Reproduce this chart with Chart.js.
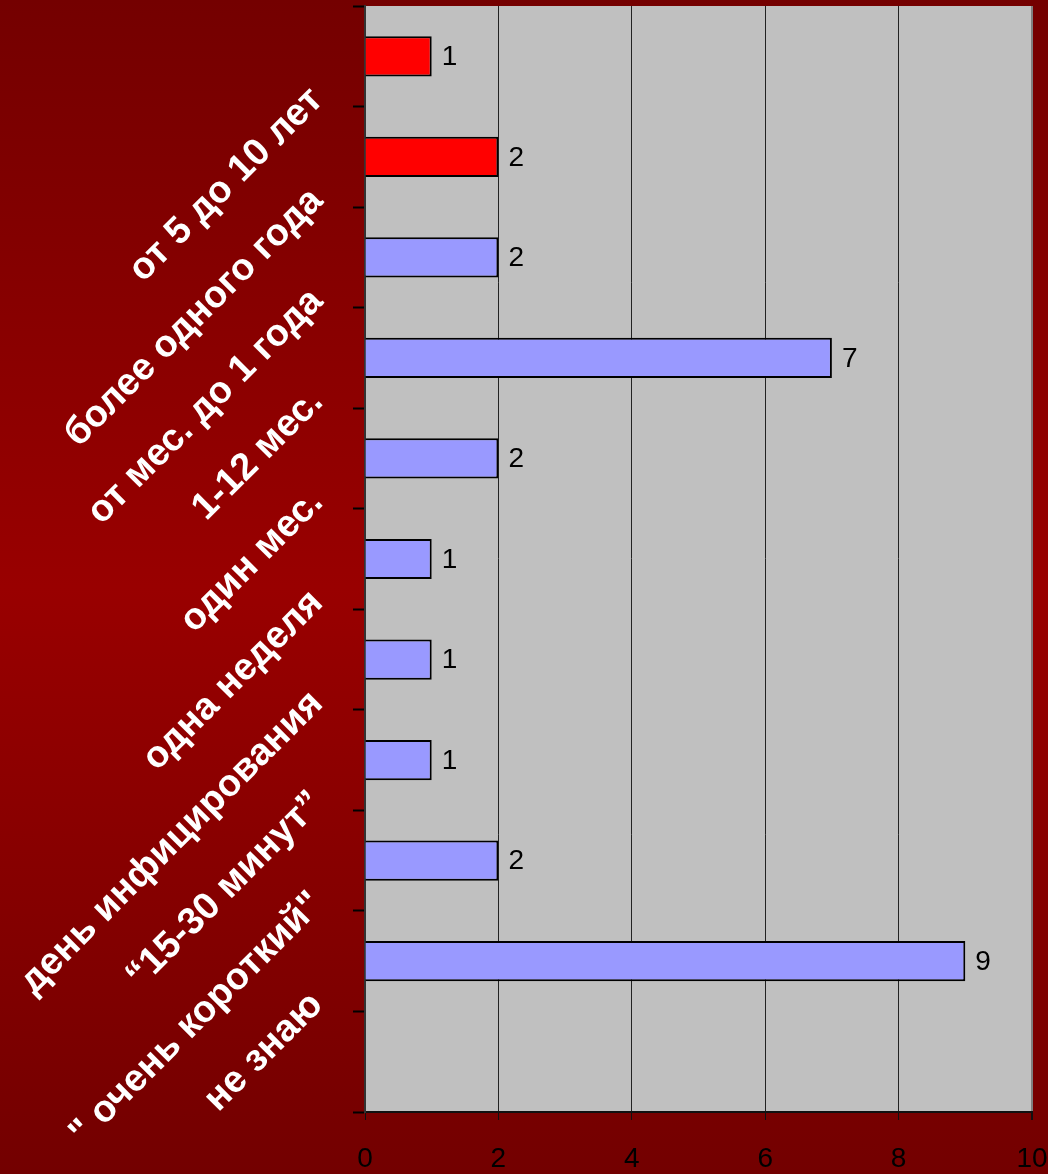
<!DOCTYPE html>
<html lang="ru">
<head>
<meta charset="UTF-8">
<title>Срок</title>
<style>
  html, body {
    margin: 0;
    padding: 0;
    overflow: hidden;
  }
  body {
    width: 1048px;
    height: 1174px;
    background: linear-gradient(to bottom, #740000 0%, #990000 50%, #730000 100%);
  }
  #chart {
    display: block;
  }
</style>
</head>
<body>

<canvas id="chart" width="1048" height="1174"></canvas>

<script src="https://cdn.jsdelivr.net/npm/chart.js"></script>
<script>
  const categories = [
    'от 5 до 10 лет',
    'более одного года',
    'от мес. до 1 года',
    '1-12 мес.',
    'один мес.',
    'одна неделя',
    'день инфицирования',
    '“15-30 минут”',
    '" очень короткий"',
    'не знаю',
    ''
  ];
  const answers = [1, 2, 2, 7, 2, 1, 1, 1, 2, 9, null];
  const xTicks = [0, 2, 4, 6, 8, 10];

  const FONT = '"Liberation Sans", Arial, sans-serif';

  // grey plot area behind the bars
  const plotBackground = {
    id: 'plotBackground',
    beforeDraw(chart) {
      const { ctx, chartArea: a } = chart;
      ctx.save();
      ctx.fillStyle = '#c0c0c0';
      ctx.fillRect(a.left, a.top, a.right - a.left, a.bottom - a.top);
      ctx.restore();
    }
  };

  // numbers to the right of every bar
  const barValues = {
    id: 'barValues',
    afterDatasetsDraw(chart) {
      const { ctx } = chart;
      const meta = chart.getDatasetMeta(0);
      ctx.save();
      ctx.fillStyle = '#000';
      ctx.font = '28px ' + FONT;
      ctx.textAlign = 'left';
      ctx.textBaseline = 'middle';
      meta.data.forEach((bar, i) => {
        const v = answers[i];
        if (v === null) return;
        ctx.fillText(String(v), bar.x + 10, bar.y + 1);
      });
      ctx.restore();
    }
  };

  // the scales keep no extra room for their outer labels
  function noPadding(s) {
    s.paddingTop = 0;
    s.paddingBottom = 0;
    s.paddingLeft = 0;
    s.paddingRight = 0;
  }

  new Chart(document.getElementById('chart'), {
    type: 'bar',
    data: {
      labels: categories,
      datasets: [{
        data: answers,
        backgroundColor: c => c.dataIndex < 2 ? '#ff0000' : '#9999ff',
        borderColor: '#000',
        borderWidth: 2,
        borderSkipped: 'start',
        barPercentage: 0.4,
        categoryPercentage: 1
      }]
    },
    options: {
      indexAxis: 'y',
      responsive: false,
      animation: false,
      layout: { padding: { top: 6, right: 16, bottom: 0, left: 0 } },
      plugins: {
        legend: { display: false },
        tooltip: { enabled: false }
      },
      scales: {
        x: {
          min: 0,
          max: 10,
          afterBuildTicks: s => { s.ticks = xTicks.map(v => ({ value: v })); },
          afterFit: s => { s.height = 62; noPadding(s); },
          border: { color: '#111', width: 2 },
          grid: {
            color: c => c.tick && c.tick.value === 10 ? '#808080' : '#222',
            lineWidth: c => c.tick && c.tick.value === 10 ? 2 : 1,
            tickLength: 8,
            tickColor: '#111'
          },
          ticks: {
            color: '#000',
            padding: 22,
            font: { family: FONT, size: 28 }
          }
        },
        y: {
          afterFit: s => { s.width = 365; noPadding(s); },
          border: { color: '#333', width: 2 },
          grid: {
            drawOnChartArea: false,
            tickLength: 12,
            tickColor: '#000',
            tickWidth: 2
          },
          ticks: {
            autoSkip: false,
            minRotation: 45,
            maxRotation: 45,
            labelOffset: 38,
            padding: 36,
            color: '#fff',
            font: { family: FONT, size: 38, weight: 'bold' }
          }
        }
      }
    },
    plugins: [plotBackground, barValues]
  });
</script>

</body>
</html>
